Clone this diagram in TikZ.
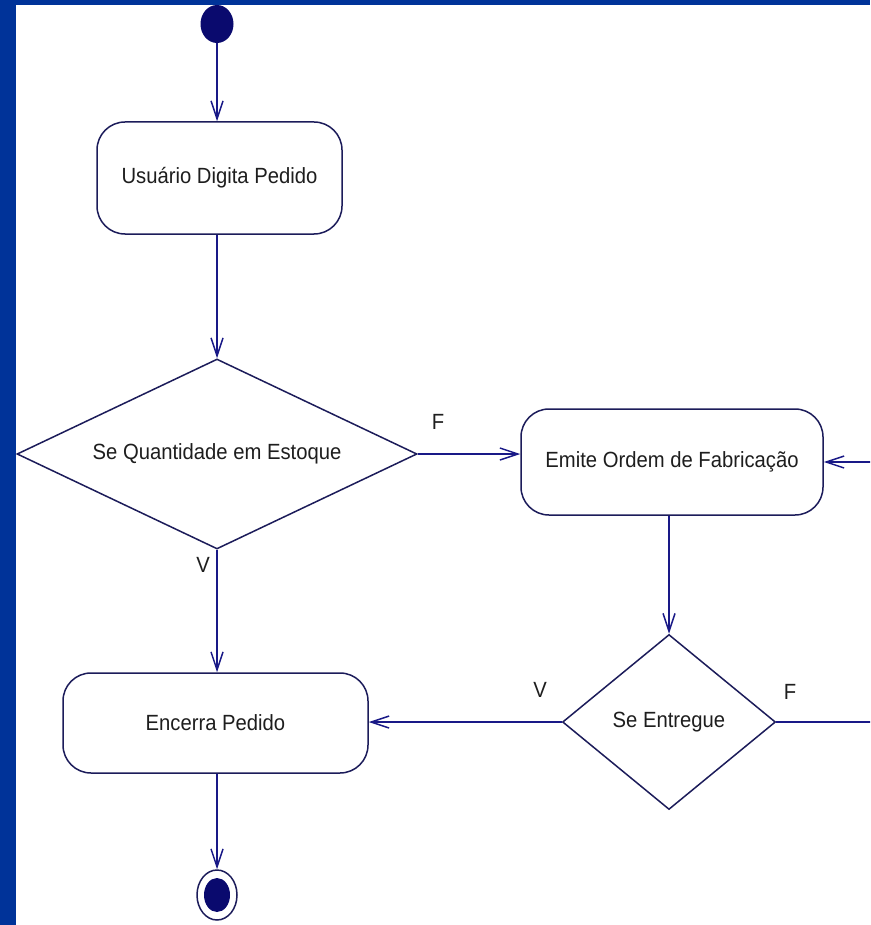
\documentclass[tikz,border=0pt]{standalone}
\usepackage{fontspec}
\newfontfamily\dfont[FakeStretch=0.92]{Liberation Sans}
\usetikzlibrary{shapes.geometric,arrows.meta}
\definecolor{bgblue}{RGB}{0,51,153}
\definecolor{ln}{RGB}{28,28,90}
\definecolor{arr}{RGB}{25,25,135}
\definecolor{txt}{RGB}{30,30,30}
\definecolor{dot}{RGB}{10,10,110}
\begin{document}
\begin{tikzpicture}[x=1pt,y=-1pt,
  act/.style={draw=ln, line width=1.5pt, rounded corners=28pt, inner sep=0pt,
    font=\dfont\fontsize{22}{26}\selectfont, text=txt},
  dec/.style={diamond, draw=ln, line width=1.5pt, inner sep=0pt,
    font=\dfont\fontsize{22}{26}\selectfont, text=txt},
  lbl/.style={font=\dfont\fontsize{22}{26}\selectfont, text=txt, inner sep=0pt},
  flow/.style={draw=arr, line width=1.5pt, -{Straight Barb[length=18pt,width=12pt]}}]
\clip (0,0) rectangle (870,925);
\fill[bgblue] (0,0) rectangle (870,925);
\fill[white] (16,5) rectangle (870,925);

\node[ellipse, fill=dot, minimum width=33pt, minimum height=38pt, inner sep=0pt] (s) at (217,24) {};
\node[act, minimum width=245pt, minimum height=112pt] (b1) at (219.5,178) {Usuário Digita Pedido};
\node[dec, aspect=2.1, minimum width=400pt, minimum height=190pt] (d1) at (217,454) {Se Quantidade em Estoque};
\node[act, minimum width=302pt, minimum height=106pt] (b2) at (672,462) {Emite Ordem de Fabricação};
\node[dec, aspect=1.2, minimum width=213pt, minimum height=175pt] (d2) at (669,722) {Se Entregue};
\node[act, minimum width=305pt, minimum height=100pt] (b3) at (215.5,723) {Encerra Pedido};
\node[ellipse, draw=ln, line width=1.5pt, minimum width=40pt, minimum height=50pt, inner sep=0pt] (e) at (217,895) {};
\node[ellipse, fill=dot, minimum width=26pt, minimum height=34pt, inner sep=0pt] (ei) at (217,895) {};
\coordinate (rt) at (880,0);

\node[lbl] (lf1) at (438,422) {F};
\node[lbl] (lv1) at (203,565) {V};
\node[lbl] (lv2) at (540,690) {V};
\node[lbl] (lf2) at (790,692) {F};

\draw[flow] (s.south) -- (s.south |- b1.north);
\draw[flow] (b1.south -| d1.north) -- (d1.north);
\draw[flow] (d1.east) -- (d1.east -| b2.west);
\draw[flow] (d1.south) -- (d1.south |- b3.north);
\draw[flow] (b2.south -| d2.north) -- (d2.north);
\draw[flow] (d2.west) -- (d2.west -| b3.east);
\draw[flow] (d2.east) -- (d2.east -| rt) |- (b2.east);
\draw[flow] (b3.south -| e.north) -- (e.north);
\end{tikzpicture}
\end{document}
